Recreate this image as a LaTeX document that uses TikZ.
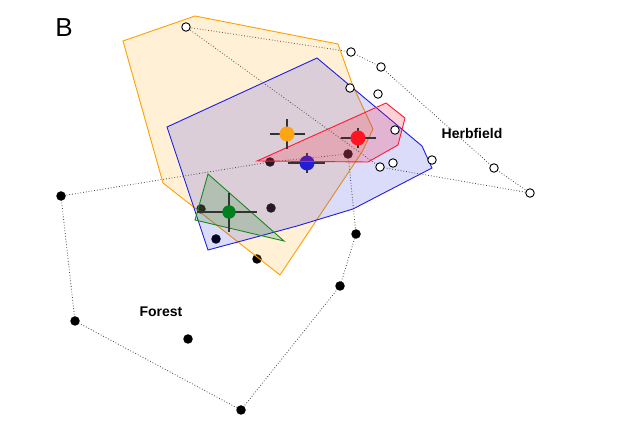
\documentclass[tikz,border=0pt]{standalone}
\usepackage{fontspec}
\setmainfont{Liberation Sans}
\definecolor{horange}{RGB}{255,160,0}
\definecolor{hblue}{RGB}{30,30,225}
\definecolor{hred}{RGB}{255,25,50}
\definecolor{hgreen}{RGB}{25,135,35}
\definecolor{morange}{RGB}{255,165,20}
\definecolor{mred}{RGB}{255,20,35}
\definecolor{mblue}{RGB}{35,30,210}
\definecolor{mgreen}{RGB}{0,128,30}
\begin{document}
\begin{tikzpicture}[x=1pt,y=-1pt,
  hull/.style={draw=black!70, line width=0.85pt, dash pattern=on 0.8pt off 2pt},
  fpt/.style={circle, fill=black, inner sep=0pt, minimum size=9.5pt},
  hpt/.style={circle, draw=black, fill=white, line width=0.9pt, inner sep=0pt, minimum size=8.5pt},
  meanpt/.style={circle, inner sep=0pt, minimum size=15pt},
  crossline/.style={draw=black!80, line width=1.3pt},
  region/.style={line width=0.9pt, fill opacity=0.16},
  lab/.style={font=\bfseries\fontsize{14}{16}\selectfont, inner sep=0pt}]
\useasboundingbox (0,0) rectangle (622,430);
% forest points
\coordinate (f1) at (61,196);
\coordinate (f2) at (75,321);
\coordinate (f3) at (241,410);
\coordinate (f4) at (340,286);
\coordinate (f5) at (356,234);
\coordinate (f6) at (348,154);
\coordinate (f7) at (270,162);
\coordinate (f8) at (188,339);
\coordinate (f9) at (216,239);
\coordinate (f10) at (257,259);
\coordinate (f11) at (201,209);
\coordinate (f12) at (271,208);
% herbfield points
\coordinate (h1) at (186,27);
\coordinate (h2) at (351,52);
\coordinate (h3) at (381,67);
\coordinate (h4) at (494,168);
\coordinate (h5) at (530,193);
\coordinate (h6) at (380,167);
\coordinate (h7) at (350,88);
\coordinate (h8) at (378,94);
\coordinate (h9) at (395,130);
\coordinate (h10) at (432,160);
\coordinate (h11) at (393,163);
% hulls
\draw[hull] (f1) -- (f7) -- (f6) -- (f5) -- (f4) -- (f3) -- (f2) -- cycle;
\draw[hull] (h1) -- (h2) -- (h3) -- (h4) -- (h5) -- (h6) -- cycle;
% forest dots
\foreach \i in {1,...,12} \node[fpt] (F\i) at (f\i) {};
% mean positions
\coordinate (mo) at (287,134);
\coordinate (mr) at (358,138);
\coordinate (mb) at (307,163);
\coordinate (mg) at (229,212);
% regions
\draw[region, draw=horange, fill=horange] (123,41) -- (195,16) -- (338,44) -- (353,86) -- (373,129) -- (362,152) -- (280,275) -- (163,183) -- cycle;
\draw[region, draw=hblue, fill=hblue] (167,127) -- (317,58) -- (422,146) -- (432,168) -- (353,209) -- (297,226) -- (208,250) -- cycle;
\draw[crossline] ([xshift=-19pt]mb) -- ([xshift=18pt]mb);
\draw[crossline] ([yshift=-10pt]mb) -- ([yshift=10pt]mb);
\node[meanpt, fill=mblue] (MB) at (mb) {};
\draw[region, draw=hred, fill=hred, fill opacity=0.2] (257,161) -- (386,103) -- (405,118) -- (398,145) -- (368,162) -- cycle;
\draw[region, draw=hgreen, fill=hgreen, fill opacity=0.2] (208,174) -- (195,220) -- (284,241) -- cycle;
% herbfield dots
\foreach \i in {1,...,11} \node[hpt] (H\i) at (h\i) {};
% other means
\draw[crossline] ([xshift=-17pt]mo) -- ([xshift=18pt]mo);
\draw[crossline] ([yshift=-15pt]mo) -- ([yshift=15pt]mo);
\draw[crossline] ([xshift=-17pt]mr) -- ([xshift=18pt]mr);
\draw[crossline] ([yshift=-10pt]mr) -- ([yshift=10pt]mr);
\draw[crossline] ([xshift=-32pt]mg) -- ([xshift=28pt]mg);
\draw[crossline] ([yshift=-20pt]mg) -- ([yshift=19pt]mg);
\node[meanpt, fill=morange] (MO) at (mo) {};
\node[meanpt, fill=mred] (MR) at (mr) {};
\node[meanpt, fill=mgreen, minimum size=13.5pt] (MG) at (mg) {};
% labels
\node[lab] (herb) at (472,133) {Herbfield};
\node[lab] (forest) at (161,312) {Forest};
\node[inner sep=0pt, font=\fontsize{26}{28}\selectfont] (B) at (64,28) {B};
\end{tikzpicture}
\end{document}
